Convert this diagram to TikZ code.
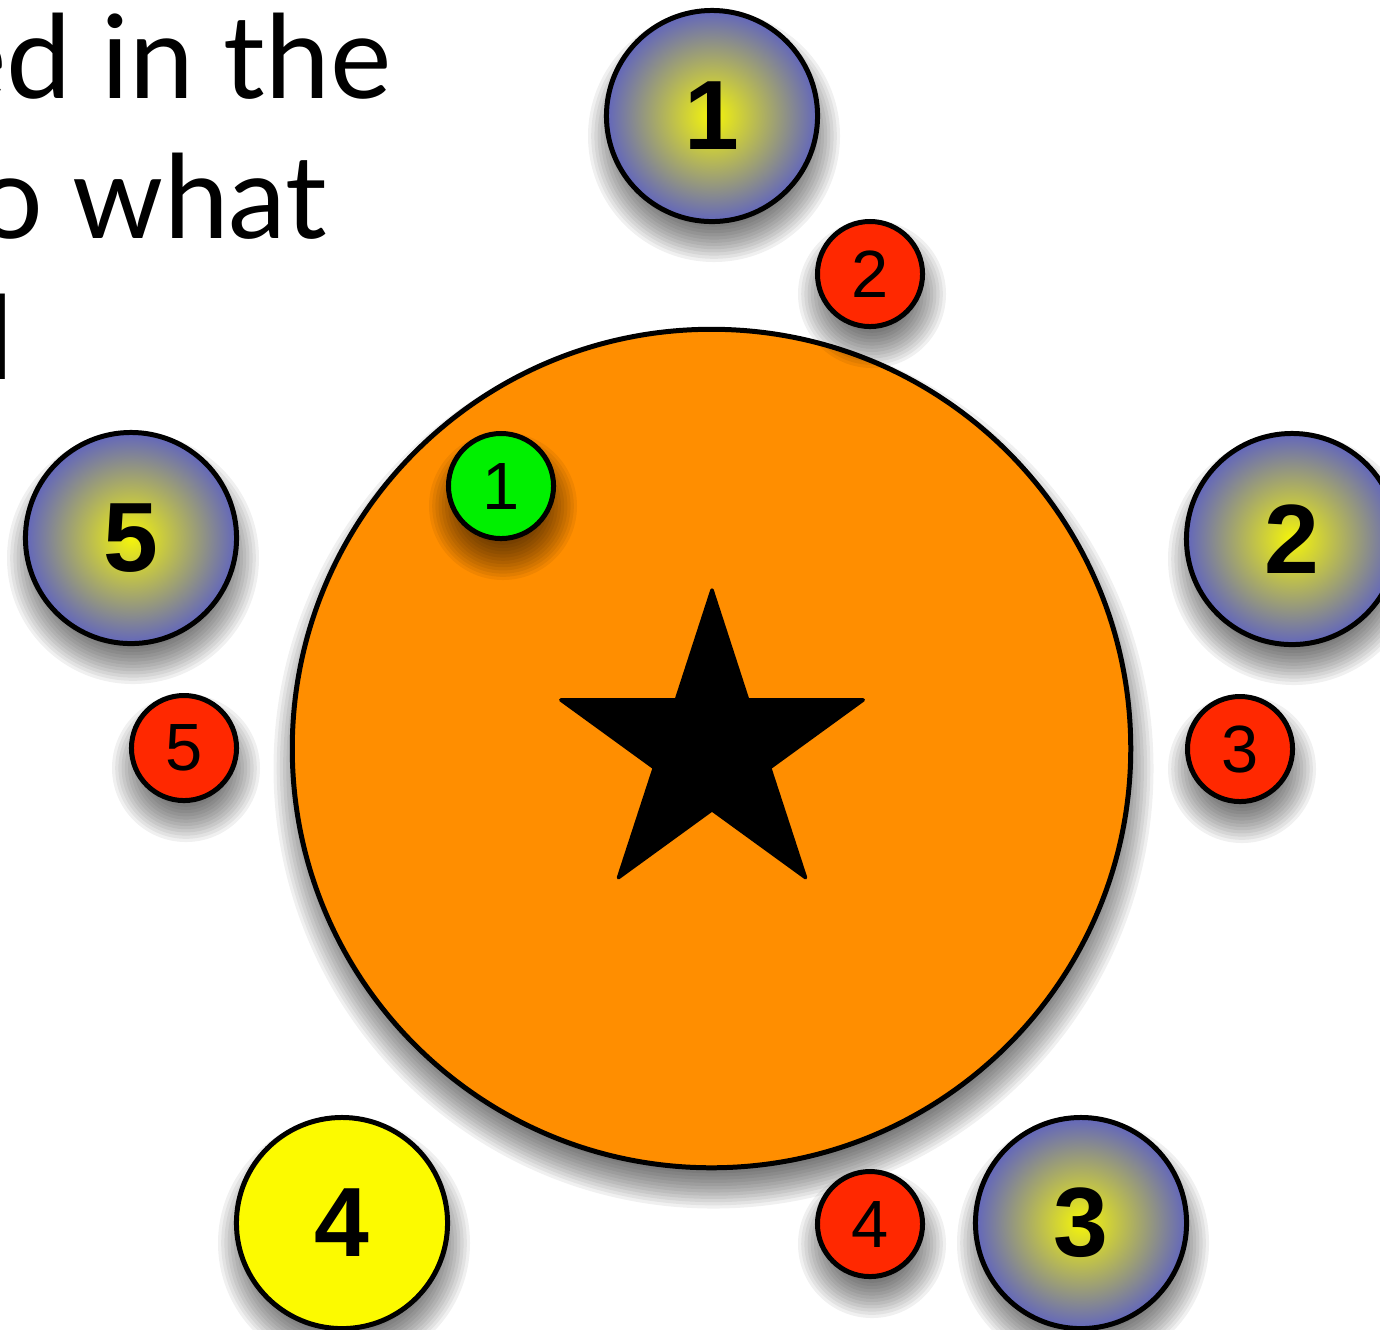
\documentclass[tikz,border=0pt]{standalone}
\usepackage{fontspec}
\setmainfont{Liberation Sans}
\newfontfamily\gillfont{Lato}
\definecolor{orangefill}{RGB}{255,142,0}
\definecolor{redfill}{RGB}{255,40,0}
\definecolor{greenfill}{RGB}{0,240,0}
\definecolor{yellowfill}{RGB}{252,250,0}
\definecolor{blueedge}{RGB}{98,102,188}
\definecolor{yellowcore}{RGB}{245,245,10}
\newcommand\softshadow[2]{%
  \foreach \k in {0,...,15}{\fill[black,opacity=0.058] ([shift={(2,20)}]#1) circle[radius=#2+20-3.2*\k];}}
\tikzset{
  bigball/.style={circle, draw=black, line width=1.42pt, minimum size=2.11cm, inner sep=0pt,
    font=\fontsize{28}{28}\selectfont\bfseries},
  gradball/.style={bigball, inner color=yellowcore, outer color=blueedge},
  smallball/.style={circle, draw=black, line width=1.42pt, minimum size=1.05cm, inner sep=0pt,
    font=\fontsize{19}{19}\selectfont},
  bigtext/.style={anchor=base east, inner sep=0pt, font=\gillfont\fontsize{33}{33}\selectfont},
}
\begin{document}
\begin{tikzpicture}[x=0.01cm, y=-0.01cm]
\useasboundingbox (0,0) rectangle (1380,1329);
\clip (0,0) rectangle (1380,1329);
% centres
\coordinate (cD) at (711.5,748.5);
\coordinate (c1) at (712,116);
\coordinate (c2) at (1292,539);
\coordinate (c3) at (1081,1223);
\coordinate (c4) at (342,1223);
\coordinate (c5) at (131,538);
\coordinate (cg1) at (501,486);
\coordinate (cr2) at (870,274);
\coordinate (cr3) at (1240,749);
\coordinate (cr4) at (870,1224);
\coordinate (cr5) at (184,748);
% text
\node[bigtext] (t1) at (392,98) {ed in the};
\node[bigtext] (t2) at (328,238) {o what};
\node[bigtext] (t3) at (14,379) {d};
% central disc
\softshadow{cD}{420}
\node[circle, draw=black, line width=1.42pt, minimum size=8.38cm, inner sep=0pt, fill=orangefill] (disc) at (cD) {};
% star
\filldraw[black, line join=round, line width=1pt] (712,590) -- (747.7,699.9) -- (863.2,699.9) -- (769.7,767.8)
  -- (805.5,877.6) -- (712,809.7) -- (618.5,877.6) -- (654.3,767.8) -- (560.8,699.9) -- (676.3,699.9) -- cycle;
% outer balls
\softshadow{c1}{106}
\node[gradball] (b1) at (c1) {1};
\softshadow{c2}{106}
\node[gradball] (b2) at (c2) {2};
\softshadow{c3}{106}
\node[gradball] (b3) at (c3) {3};
\softshadow{c4}{106}
\node[bigball, fill=yellowfill] (b4) at (c4) {4};
\softshadow{c5}{106}
\node[gradball] (b5) at (c5) {5};
% small balls
\softshadow{cg1}{54}
\node[smallball, fill=greenfill] (g1) at (cg1) {1};
\softshadow{cr2}{54}
\node[smallball, fill=redfill] (r2) at (cr2) {2};
\softshadow{cr3}{54}
\node[smallball, fill=redfill] (r3) at (cr3) {3};
\softshadow{cr4}{54}
\node[smallball, fill=redfill] (r4) at (cr4) {4};
\softshadow{cr5}{54}
\node[smallball, fill=redfill] (r5) at (cr5) {5};
\end{tikzpicture}
\end{document}
